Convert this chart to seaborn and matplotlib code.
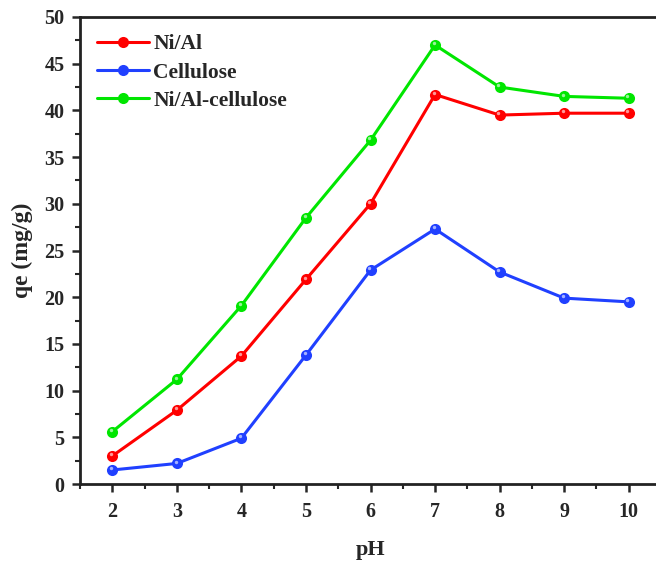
import numpy as np
import pandas as pd
import seaborn as sns
import matplotlib
matplotlib.use("Agg")
import matplotlib.pyplot as plt
from matplotlib.ticker import MultipleLocator

ph = [2, 3, 4, 5, 6, 7, 8, 9, 10]
ni_al = [3.0, 7.9, 13.7, 21.9, 30.0, 41.7, 39.5, 39.7, 39.7]
cellulose = [1.5, 2.2, 4.9, 13.8, 22.9, 27.3, 22.7, 19.9, 19.5]
ni_al_cell = [5.6, 11.2, 19.1, 28.5, 36.8, 47.0, 42.5, 41.5, 41.3]
series_names = ["Ni/Al", "Cellulose", "Ni/Al-cellulose"]
colors = ["#ff0000", "#2040ff", "#00e600"]

df = pd.DataFrame({
    "pH": ph * 3,
    "qe": ni_al + cellulose + ni_al_cell,
    "series": [series_names[0]] * 9 + [series_names[1]] * 9 + [series_names[2]] * 9,
})

sns.set_theme(style="ticks")
plt.rcParams["font.family"] = ["Liberation Serif", "DejaVu Serif"]
plt.rcParams["font.weight"] = "bold"

fig = plt.figure(figsize=(6.56, 5.65), dpi=100)
ax = fig.add_axes([80/656, 81/565, 581/656, 467/565])

sns.lineplot(data=df, x="pH", y="qe", hue="series", hue_order=series_names,
             palette=colors, marker="o", markersize=8, markeredgewidth=0,
             linewidth=2.2, ax=ax, legend=True)
# highlight on markers
for name, c in zip(series_names, colors):
    sub = df[df["series"] == name]
    ax.scatter(sub["pH"] - 0.02, sub["qe"] + 0.2, s=6, color="white", alpha=0.6,
               zorder=5, linewidths=0)

ax.set_xlim(1.5, 10.5)
ax.set_ylim(0, 50)
ax.xaxis.set_major_locator(MultipleLocator(1))
ax.xaxis.set_minor_locator(MultipleLocator(0.5))
ax.yaxis.set_major_locator(MultipleLocator(5))
ax.yaxis.set_minor_locator(MultipleLocator(2.5))
ax.tick_params(which="major", direction="out", length=6, width=1.8, labelsize=14.5)
ax.tick_params(axis="x", which="major", pad=7)
ax.tick_params(axis="y", which="major", pad=5)
ax.tick_params(which="minor", direction="out", length=3.5, width=1.5)
for s in ax.spines.values():
    s.set_linewidth(2)
    s.set_color("#222222")
for lab in ax.get_xticklabels() + ax.get_yticklabels():
    lab.set_fontweight("bold")

ax.set_xlabel("pH", fontsize=16, fontweight="bold", labelpad=13)
ax.set_ylabel("qe (mg/g)", fontsize=17, fontweight="bold", labelpad=8)

leg = ax.legend(loc="upper left", frameon=False,
                prop={"weight": "bold", "size": 15.5}, handlelength=2.4,
                handletextpad=0.2, borderaxespad=0.4, labelspacing=0.38)

fig.savefig("out.png", dpi=100)
